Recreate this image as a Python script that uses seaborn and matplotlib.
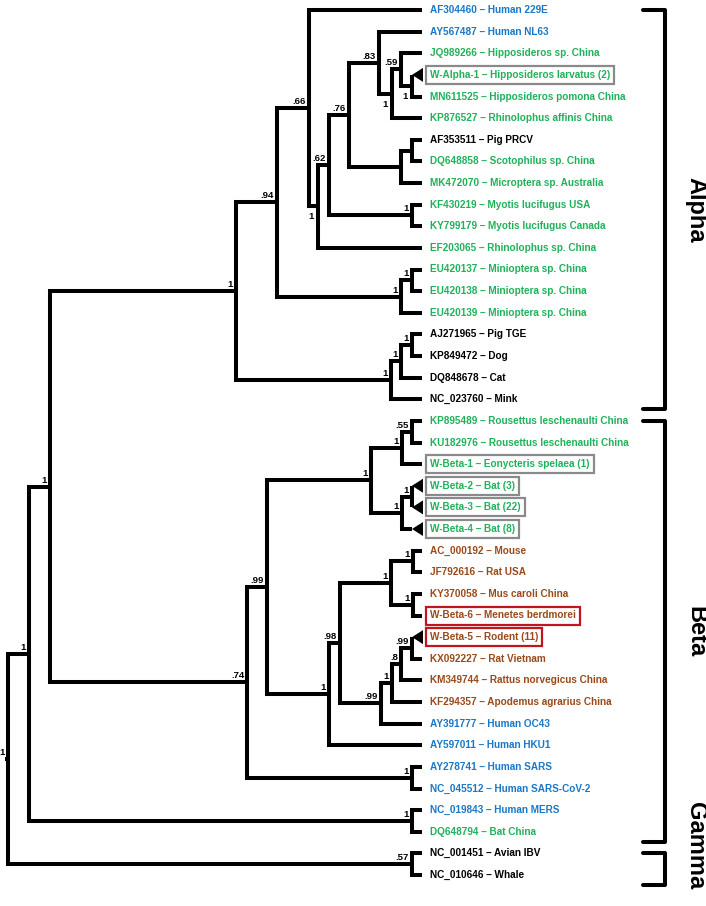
import numpy as np
import pandas as pd
import matplotlib.pyplot as plt
import seaborn as sns

# leaves, top to bottom
leaf_labels = [
    "AF304460 \u2013 Human 229E",
    "AY567487 \u2013 Human NL63",
    "JQ989266 \u2013 Hipposideros sp. China",
    "W-Alpha-1 \u2013 Hipposideros larvatus (2)",
    "MN611525 \u2013 Hipposideros pomona China",
    "KP876527 \u2013 Rhinolophus affinis China",
    "AF353511 \u2013 Pig PRCV",
    "DQ648858 \u2013 Scotophilus sp. China",
    "MK472070 \u2013 Microptera sp. Australia",
    "KF430219 \u2013 Myotis lucifugus USA",
    "KY799179 \u2013 Myotis lucifugus Canada",
    "EF203065 \u2013 Rhinolophus sp. China",
    "EU420137 \u2013 Minioptera sp. China",
    "EU420138 \u2013 Minioptera sp. China",
    "EU420139 \u2013 Minioptera sp. China",
    "AJ271965 \u2013 Pig TGE",
    "KP849472 \u2013 Dog",
    "DQ848678 \u2013 Cat",
    "NC_023760 \u2013 Mink",
    "KP895489 \u2013 Rousettus leschenaulti China",
    "KU182976 \u2013 Rousettus leschenaulti China",
    "W-Beta-1 \u2013 Eonycteris spelaea (1)",
    "W-Beta-2 \u2013 Bat (3)",
    "W-Beta-3 \u2013 Bat (22)",
    "W-Beta-4 \u2013 Bat (8)",
    "AC_000192 \u2013 Mouse",
    "JF792616 \u2013 Rat USA",
    "KY370058 \u2013 Mus caroli China",
    "W-Beta-6 \u2013 Menetes berdmorei",
    "W-Beta-5 \u2013 Rodent (11)",
    "KX092227 \u2013 Rat Vietnam",
    "KM349744 \u2013 Rattus norvegicus China",
    "KF294357 \u2013 Apodemus agrarius China",
    "AY391777 \u2013 Human OC43",
    "AY597011 \u2013 Human HKU1",
    "AY278741 \u2013 Human SARS",
    "NC_045512 \u2013 Human SARS-CoV-2",
    "NC_019843 \u2013 Human MERS",
    "DQ648794 \u2013 Bat China",
    "NC_001451 \u2013 Avian IBV",
    "NC_010646 \u2013 Whale",
]
leaf_hosts = (["human"] * 2 + ["bat"] * 4 + ["other"] + ["bat"] * 8 + ["other"] * 4
              + ["bat"] * 6 + ["rodent"] * 8 + ["human"] * 5 + ["bat"] + ["other"] * 2)
host_colors = {"human": "#1a78c8", "bat": "#1fb25a", "rodent": "#9a4a1a", "other": "black"}

collapsed = [3, 22, 23, 24, 29]
boxed_gray = [3, 21, 22, 23, 24]
boxed_red = [28, 29]

# internal nodes (children before parents): name, child a, child b
node_names = ["tge", "cat", "mink", "mini2", "mini", "c1", "p59", "c1b", "p83", "prcv1",
              "prcv2", "p76", "myo", "p62", "c1a", "p66", "p94", "alpha", "p55", "b1",
              "b23", "b234", "bat", "mouse", "mus", "rod1", "p99c", "p8", "rod2", "p99b",
              "p98", "hku", "p99a", "sars", "p74", "ab", "mers", "abm", "gam", "root"]
node_a = [15, "tge", "cat", 12, "mini2", 3, 2, "p59", 1, 6,
          "prcv1", "p83", 9, "p76", "p62", 0, "p66", "p94", 19, "p55",
          22, "b23", "b1", 25, 27, "mouse", 29, "p99c", "p8", "rod2",
          "rod1", "p98", "bat", 35, "p99a", "alpha", 37, "ab", 39, "abm"]
node_b = [16, 17, 18, 13, 14, 4, "c1", 5, "c1b", 7,
          8, "prcv2", 10, "myo", 11, "c1a", "mini", "mink", 20, 21,
          23, 24, "b234", 26, 28, "mus", 30, 31, 32, 33,
          "p99b", 34, "hku", 36, "sars", "p74", 38, "mers", 40, "gam"]
# node depth (distance from the left edge, pixels)
node_depth = [412, 401, 391, 412, 401, 412, 401, 392, 379, 412,
              401, 349, 412, 329, 318, 309, 277, 236, 412, 402,
              412, 402, 371, 413, 413, 391, 412, 401, 392, 381,
              340, 329, 267, 412, 247, 50, 412, 29, 412, 8]
node_support = ["1", "1", "1", "1", "1", "1", ".59", "1", ".83", "",
                "", ".76", "1", ".62", "1", ".66", ".94", "1", ".55", "1",
                "1", "1", "1", "1", "1", "1", ".99", ".8", "1", ".99",
                ".98", "1", ".99", "1", ".74", "1", "1", "1", ".57", "1"]
support_below = ["c1", "c1b", "c1a"]

clade_names = ["Alpha", "Beta", "Gamma"]
clade_first = [0, 19, 39]
clade_last = [18, 38, 40]
clade_label_shift = [0, 0, -24]

# layout
TIP_X = 422
COLLAPSED_X = 412
Y0, DY = 10, 21.625
LW = 2.9

sns.set_theme(style="white")
plt.rcParams["font.family"] = ["Liberation Sans", "DejaVu Sans"]
plt.rcParams["font.weight"] = "bold"

leaf_y = Y0 + DY * np.arange(len(leaf_labels))
pos = {}
for i in range(len(leaf_labels)):
    pos[i] = (COLLAPSED_X if i in collapsed else TIP_X, leaf_y[i])

rows = []
for k, name in enumerate(node_names):
    xa, ya = pos[node_a[k]]
    xb, yb = pos[node_b[k]]
    d = node_depth[k]
    pos[name] = (d, (ya + yb) / 2)
    for x, y in [(xa, ya), (d, ya), (d, yb), (xb, yb)]:
        rows.append({"seg": name, "x": x, "y": y})
rx, ry = pos["root"]
rows.append({"seg": "stub", "x": rx - 3, "y": ry})
rows.append({"seg": "stub", "x": rx, "y": ry})
seg = pd.DataFrame(rows)

fig = plt.figure(figsize=(7.06, 9.06), dpi=100)
ax = fig.add_axes([0, 0, 1, 1])
sns.lineplot(data=seg, x="x", y="y", units="seg", estimator=None, sort=False,
             color="black", linewidth=LW, solid_joinstyle="miter",
             solid_capstyle="butt", ax=ax, legend=False)

# collapsed clade triangles
for i in collapsed:
    y = leaf_y[i]
    ax.fill([COLLAPSED_X, COLLAPSED_X + 11, COLLAPSED_X + 11], [y, y - 7, y + 7],
            color="black", lw=0)

# support values
for k, name in enumerate(node_names):
    s = node_support[k]
    if not s:
        continue
    x, y = pos[name]
    if name in support_below:
        ax.text(x - 4, y + 6, s, ha="right", va="top", fontsize=6.8,
                fontweight="bold", color="black")
    else:
        ax.text(x - 3, y - 4, s, ha="right", va="baseline", fontsize=6.8,
                fontweight="bold", color="black")

# leaf labels
for i, lab in enumerate(leaf_labels):
    bbox = None
    if i in boxed_gray:
        bbox = dict(boxstyle="square,pad=0.4", fc="white", ec="#8a8a8a", lw=1.6)
    elif i in boxed_red:
        bbox = dict(boxstyle="square,pad=0.4", fc="white", ec="#c0141e", lw=1.6)
    ax.text(430, leaf_y[i], lab, ha="left", va="center", fontsize=7.2,
            fontweight="bold", color=host_colors[leaf_hosts[i]], bbox=bbox)

# clade brackets
for name, a, b, shift in zip(clade_names, clade_first, clade_last, clade_label_shift):
    top = leaf_y[a]
    bot = leaf_y[b] + 10
    ax.plot([643, 665, 665, 643], [top, top, bot, bot], color="black",
            lw=LW, solid_joinstyle="round", solid_capstyle="round")
    ax.text(696, (top + bot) / 2 + shift, name, rotation=-90, ha="center",
            va="center", fontsize=17, fontweight="bold", color="black")

ax.set_xlim(0, 706)
ax.set_ylim(906, 0)
ax.set_axis_off()
fig.savefig("out.png", dpi=100, facecolor="white")
